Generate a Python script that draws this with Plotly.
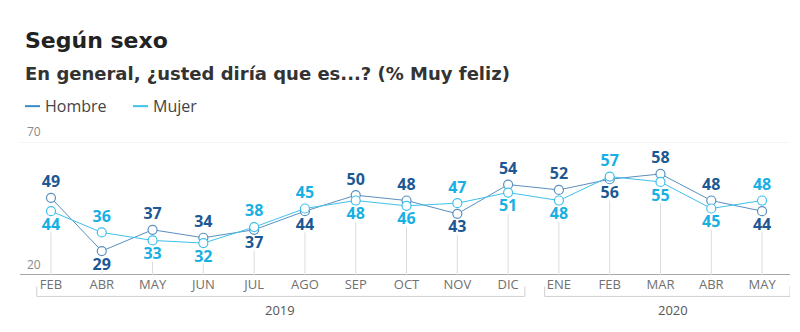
import plotly.graph_objects as go

months = ["FEB", "ABR", "MAY", "JUN", "JUL", "AGO", "SEP", "OCT", "NOV", "DIC",
          "ENE", "FEB", "MAR", "ABR", "MAY"]
years = ["2019"] * 10 + ["2020"] * 5
hombre = [49, 29, 37, 34, 37, 44, 50, 48, 43, 54, 52, 56, 58, 48, 44]
mujer = [44, 36, 33, 32, 38, 45, 48, 46, 47, 51, 48, 57, 55, 45, 48]
y_min, y_max = 20, 70

C_H_LINE = "#5a8fbf"
C_H_LEG = "#3a8cc6"
C_H_TEXT = "#1c5893"
C_M_LINE = "#3fc1ec"
C_M_TEXT = "#18afe3"

xs = list(range(len(months)))

W, H = 800, 332
L, R = 20, 10
T, B = 142, 56.5
pw = W - L - R
ph = H - T - B


def px_x(p):
    return (p - L) / pw


def px_y(p):
    return (H - B - p) / ph


pos_h = ["top center" if h > m else "bottom center" for h, m in zip(hombre, mujer)]
pos_m = ["top center" if m > h else "bottom center" for h, m in zip(hombre, mujer)]

fig = go.Figure()

shapes = []
for x, h, m in zip(xs, hombre, mujer):
    shapes.append(dict(type="line", xref="x", yref="y", x0=x, x1=x, y0=y_min,
                       y1=min(h, m) - 8, line=dict(color="#dcdcdc", width=1), layer="below"))
shapes.append(dict(type="line", xref="paper", yref="y", x0=0, x1=1, y0=y_max, y1=y_max,
                   line=dict(color="#ececec", width=1), layer="below"))
shapes.append(dict(type="line", xref="paper", yref="y", x0=0, x1=1, y0=y_min, y1=y_min,
                   line=dict(color="#a8a8a8", width=2), layer="below"))

groups = {}
for i, yv in enumerate(years):
    groups.setdefault(yv, []).append(i)
br_y = px_y(297)
br_top = px_y(287)
ann = []
for yv, idx in groups.items():
    x0 = idx[0] - 0.28
    x1 = idx[-1] + 0.33 if yv == "2019" else idx[-1] + 0.55
    for xx in (x0, x1):
        shapes.append(dict(type="line", xref="x", yref="paper", x0=xx, x1=xx, y0=br_top, y1=br_y,
                           line=dict(color="#cfcfcf", width=1)))
    shapes.append(dict(type="line", xref="x", yref="paper", x0=x0, x1=x1, y0=br_y, y1=br_y,
                       line=dict(color="#cfcfcf", width=1)))
    cx = (idx[0] + idx[-1]) / 2 if yv == "2019" else (idx[0] + idx[-1]) / 2 + 0.25
    ann.append(dict(x=cx, xref="x", y=px_y(311), yref="paper", text=yv, showarrow=False,
                    yanchor="middle",
                    font=dict(size=13, color="#555555", family="Open Sans")))

for x0, col, label in [(25, C_H_LEG, "Hombre"), (133, C_M_LINE, "Mujer")]:
    shapes.append(dict(type="line", xref="paper", yref="paper", x0=px_x(x0), x1=px_x(x0 + 15),
                       y0=px_y(106), y1=px_y(106), line=dict(color=col, width=2)))
    ann.append(dict(x=px_x(x0 + 18), xref="paper", y=px_y(106), yref="paper", text=label,
                    xanchor="left", yanchor="middle", showarrow=False,
                    font=dict(size=16, color="#444444", family="Open Sans")))

ann.append(dict(x=px_x(23), xref="paper", y=px_y(40), yref="paper", text="<b>Según sexo</b>",
                xanchor="left", yanchor="middle", showarrow=False,
                font=dict(size=22, color="#222222", family="DejaVu Sans")))
ann.append(dict(x=px_x(23), xref="paper", y=px_y(73), yref="paper",
                text="<b>En general, ¿usted diría que es...? (% Muy feliz)</b>",
                xanchor="left", yanchor="middle", showarrow=False,
                font=dict(size=18, color="#333333", family="DejaVu Sans")))

for v in (y_max, y_min):
    ann.append(dict(x=px_x(25), xref="paper", y=v, yref="y", text=str(v), xanchor="left",
                    yanchor="bottom", showarrow=False,
                    font=dict(size=12, color="#8a8a8a", family="Open Sans")))

fig.add_trace(go.Scatter(
    x=xs, y=hombre, mode="lines+markers+text", name="Hombre",
    line=dict(color=C_H_LINE, width=1),
    marker=dict(size=9, color="white", line=dict(color=C_H_LINE, width=1.2)),
    text=[str(v) for v in hombre], textposition=pos_h,
    textfont=dict(size=16, color=C_H_TEXT, family="Open Sans", weight="bold"),
    cliponaxis=False, showlegend=False))
fig.add_trace(go.Scatter(
    x=xs, y=mujer, mode="lines+markers+text", name="Mujer",
    line=dict(color=C_M_LINE, width=1),
    marker=dict(size=9, color="white", line=dict(color=C_M_LINE, width=1.2)),
    text=[str(v) for v in mujer], textposition=pos_m,
    textfont=dict(size=16, color=C_M_TEXT, family="Open Sans", weight="bold"),
    cliponaxis=False, showlegend=False))

fig.update_layout(
    width=W, height=H, margin=dict(l=L, r=R, t=T, b=B),
    paper_bgcolor="white", plot_bgcolor="white",
    shapes=shapes, annotations=ann, showlegend=False,
    xaxis=dict(range=[-0.61, 14.55], tickmode="array", tickvals=xs, ticktext=months,
               showgrid=False, zeroline=False, showline=False, ticks="",
               tickfont=dict(size=13, color="#707070", family="Open Sans"),
               fixedrange=True),
    yaxis=dict(range=[y_min, y_max], showgrid=False, zeroline=False, showticklabels=False,
               showline=False, fixedrange=True),
)

fig.write_html("out.html")
